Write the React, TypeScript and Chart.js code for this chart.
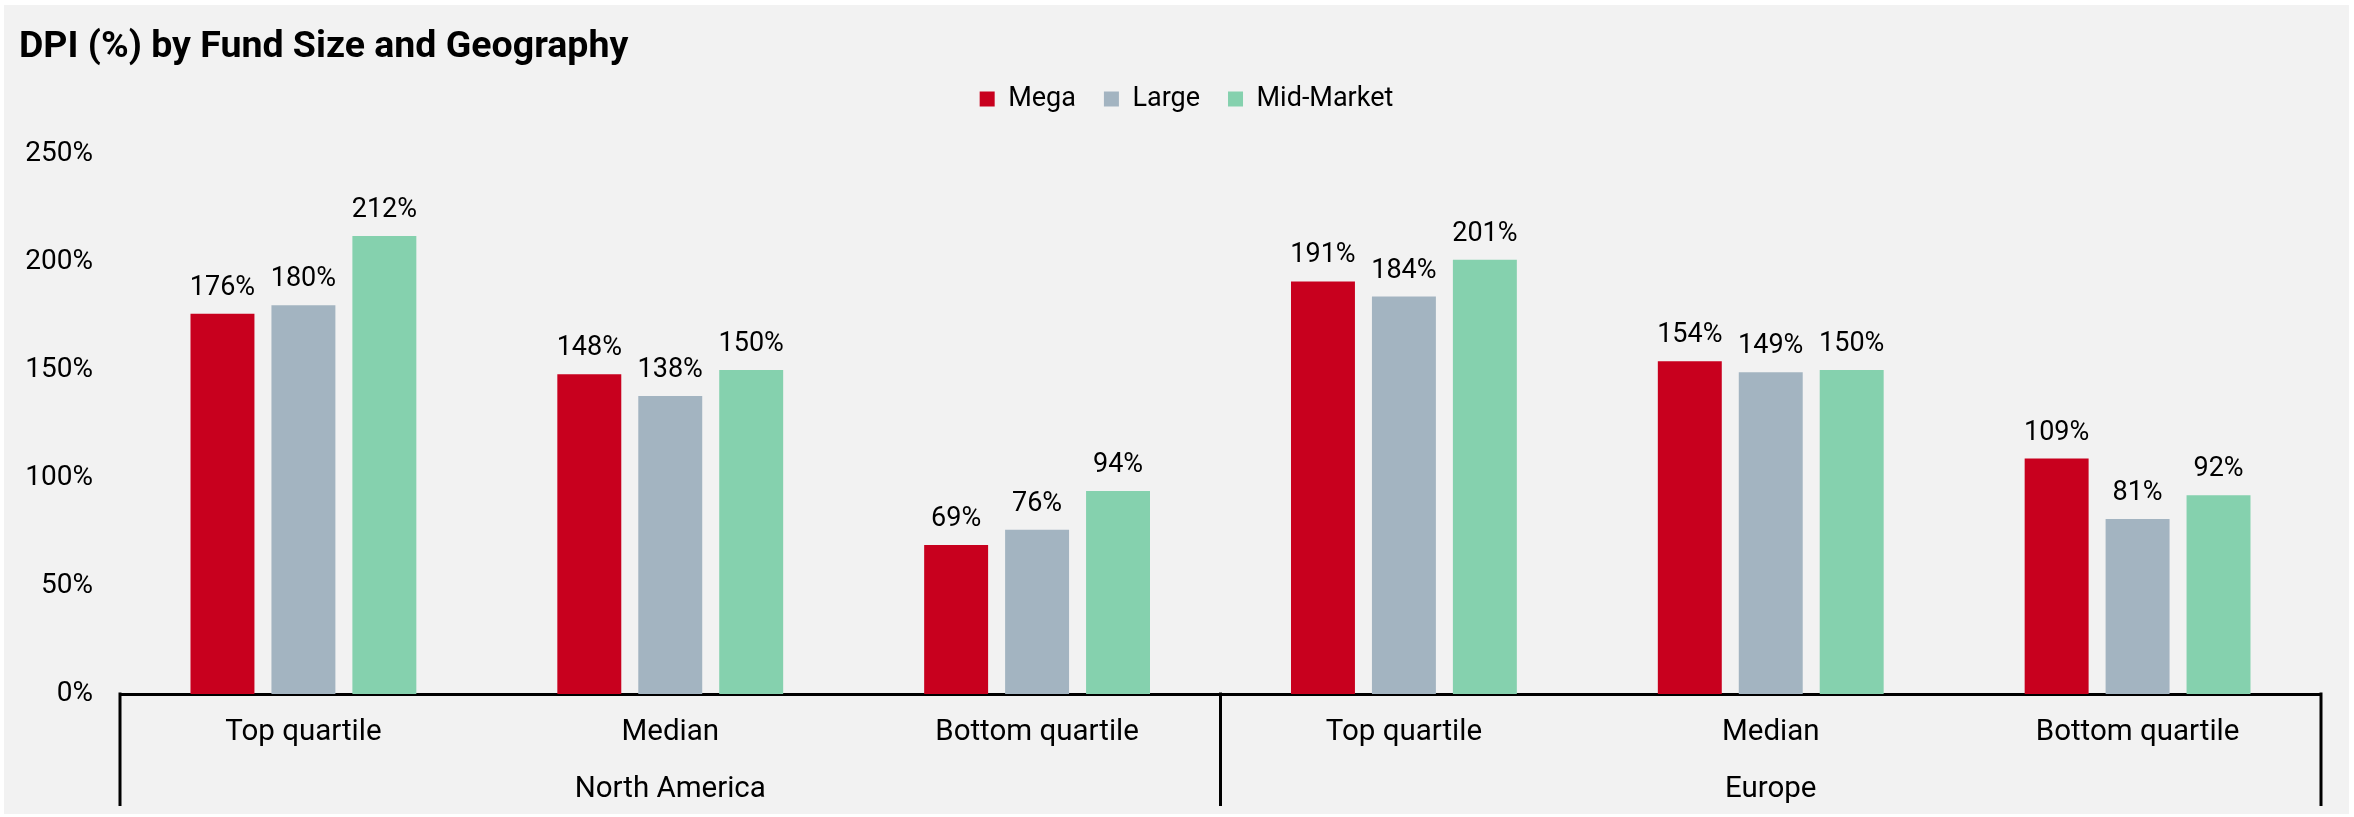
import React, { useEffect, useRef } from "react";
import { Chart, registerables } from "chart.js";

Chart.register(...registerables);

const titleText = "DPI (%) by Fund Size and Geography";
const categories = ["Top quartile", "Median", "Bottom quartile", "Top quartile", "Median", "Bottom quartile"];
const regions = ["North America", "Europe"];
const seriesNames = ["Mega", "Large", "Mid-Market"];
const megaValues = [176, 148, 69, 191, 154, 109];
const largeValues = [180, 138, 76, 184, 149, 81];
const midMarketValues = [212, 150, 94, 201, 150, 92];
const yMin = 0;
const yMax = 250;
const yStep = 50;

const colors = ["#c8001e", "#a3b4c1", "#85d1ae"];

const W = 2354;
const H = 817;

const bgPlugin = {
  id: "bgBox",
  beforeDraw(chart: any) {
    const ctx = chart.ctx;
    ctx.save();
    ctx.fillStyle = "#ffffff";
    ctx.fillRect(0, 0, chart.width, chart.height);
    ctx.fillStyle = "#f2f2f2";
    ctx.fillRect(4, 5, chart.width - 9, chart.height - 8);
    ctx.restore();
  },
};

const labelPlugin = {
  id: "valueLabels",
  afterDatasetsDraw(chart: any) {
    const ctx = chart.ctx;
    ctx.save();
    ctx.font = "400 27px Roboto";
    ctx.fillStyle = "#000";
    ctx.textAlign = "center";
    ctx.textBaseline = "alphabetic";
    chart.data.datasets.forEach((ds: any, di: number) => {
      const meta = chart.getDatasetMeta(di);
      meta.data.forEach((el: any, i: number) => {
        ctx.fillText(ds.data[i] + "%", el.x, el.y - 19);
      });
    });
    ctx.restore();
  },
};

const separatorPlugin = {
  id: "groupSeparators",
  afterDraw(chart: any) {
    const ctx = chart.ctx;
    const x = chart.scales.x;
    const area = chart.chartArea;
    const half = categories.length / 2;
    const mid = (x.getPixelForTick(half - 1) + x.getPixelForTick(half)) / 2;
    const xs = [area.left, mid, area.right];
    ctx.save();
    ctx.strokeStyle = "#000";
    ctx.lineWidth = 3;
    xs.forEach((px) => {
      ctx.beginPath();
      ctx.moveTo(px, area.bottom - 1.5);
      ctx.lineTo(px, 806);
      ctx.stroke();
    });
    ctx.restore();
  },
};

export default function App() {
  const ref = useRef<HTMLCanvasElement | null>(null);

  useEffect(() => {
    if (!ref.current) return;
    Chart.defaults.font.family = "Roboto";
    Chart.defaults.color = "#000";
    const chart = new Chart(ref.current, {
      type: "bar",
      data: {
        labels: categories,
        datasets: [
          { label: seriesNames[0], data: megaValues, backgroundColor: colors[0] },
          { label: seriesNames[1], data: largeValues, backgroundColor: colors[1] },
          { label: seriesNames[2], data: midMarketValues, backgroundColor: colors[2] },
        ],
      },
      options: {
        responsive: false,
        maintainAspectRatio: false,
        animation: false,
        devicePixelRatio: 1,
        datasets: {
          bar: { barPercentage: 0.79, categoryPercentage: 0.662 },
        },
        layout: { padding: { left: 19, right: 0, top: 0, bottom: 0 } },
        plugins: {
          title: {
            display: true,
            text: titleText,
            align: "start",
            color: "#000",
            font: { family: "Roboto", size: 37.5, weight: "bold", lineHeight: 1 },
            padding: { top: 29, bottom: -9 },
          },
          legend: {
            display: true,
            position: "top",
            align: "center",
            labels: {
              boxWidth: 15,
              boxHeight: 15,
              padding: 28,
              color: "#000",
              font: { family: "Roboto", size: 27 },
            },
          },
          tooltip: { enabled: false },
        },
        scales: {
          x: {
            type: "category",
            position: "bottom",
            weight: 0,
            grid: { display: false, drawTicks: false },
            border: { display: true, color: "#000", width: 3 },
            ticks: { font: { family: "Roboto", size: 29.5 }, color: "#000", padding: 21, maxRotation: 0, autoSkip: false },
            afterFit: (s: any) => { s.height = 56; },
          },
          x2: {
            type: "category",
            position: "bottom",
            weight: 1,
            labels: regions,
            offset: true,
            grid: { display: false, drawTicks: false },
            border: { display: false },
            ticks: { font: { family: "Roboto", size: 29.5 }, color: "#000", padding: 22, maxRotation: 0, autoSkip: false },
            afterFit: (s: any) => { s.height = 67; },
          },
          xTop: {
            type: "category",
            position: "top",
            weight: 0,
            labels: regions,
            grid: { display: false, drawTicks: false },
            border: { display: false },
            ticks: { display: false },
            afterFit: (s: any) => { s.height = 31.5; },
          },
          y: {
            type: "linear",
            position: "left",
            min: yMin,
            max: yMax,
            grid: { display: false, drawTicks: false },
            border: { display: false },
            ticks: {
              stepSize: yStep,
              padding: 27,
              color: "#000",
              font: { family: "Roboto", size: 28 },
              callback: (v: any) => v + "%",
            },
            afterFit: (s: any) => { s.width = 101; },
          },
          yR: {
            type: "linear",
            position: "right",
            display: true,
            grid: { display: false, drawTicks: false },
            border: { display: false },
            ticks: { display: false },
            afterFit: (s: any) => { s.width = 33; },
          },
        },
      },
      plugins: [bgPlugin, labelPlugin, separatorPlugin],
    });
    return () => chart.destroy();
  }, []);

  return (
    <div style={{ position: "absolute", left: 0, top: 0, width: W, height: H }}>
      <canvas ref={ref} width={W} height={H} style={{ width: W, height: H, display: "block" }} />
    </div>
  );
}
